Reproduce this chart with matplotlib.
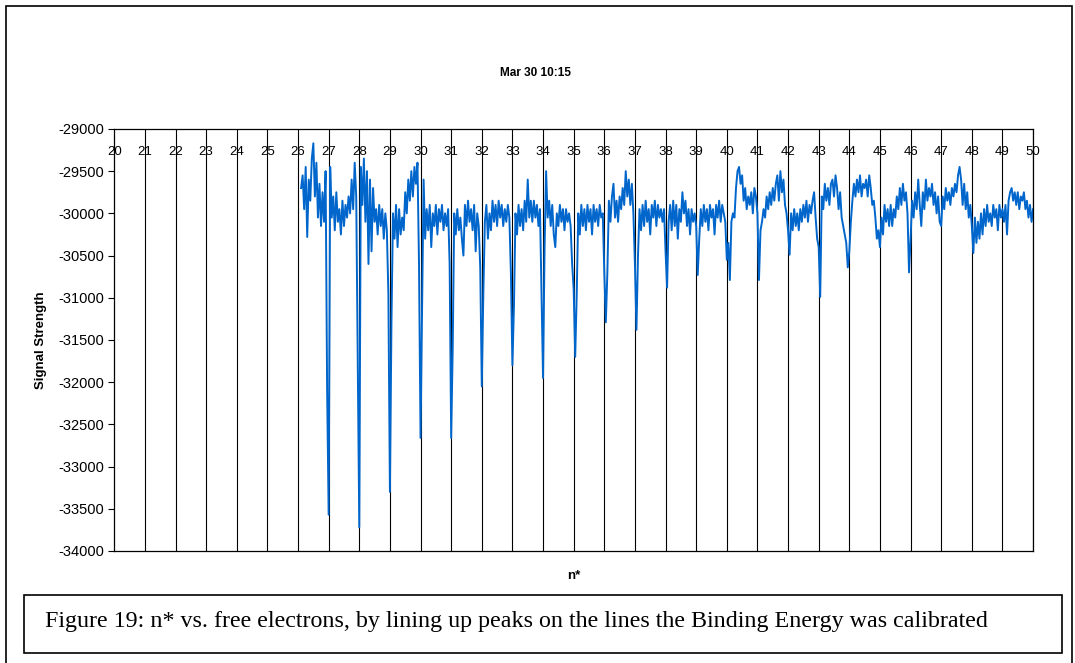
import matplotlib as mpl
mpl.use('Agg')
import matplotlib.pyplot as plt
from matplotlib.patches import Rectangle
import numpy as np

n_first = 26.10
n_step = 0.05
row26 = [-29700, -29550, -29950, -29450, -30280, -29600, -29850, -29350, -29170, -29800,
         -29400, -30050, -29650, -30150, -29750, -30100, -29500, -32100]
row27 = [-33570, -29450, -30050, -29800, -30200, -29750, -30100, -29950, -30250, -29850,
         -30150, -29900, -30050, -29800, -30000, -29600, -29950, -29400, -29800, -31700]
row28 = [-33720, -29450, -29900, -29350, -30100, -29500, -30600, -29600, -30450, -29700,
         -30100, -29950, -30250, -29900, -30150, -29950, -30300, -30000, -30200, -30950]
row29 = [-33300, -31300, -30000, -30300, -29900, -30400, -29950, -30250, -30050, -30200,
         -29750, -30000, -29600, -29850, -29500, -29800, -29450, -29650, -29400, -30600]
row30 = [-32660, -31150, -29600, -30300, -29950, -30200, -29900, -30400, -30000, -30150,
         -29900, -30250, -29950, -30100, -29900, -30200, -30000, -30150, -29950, -30600]
row31 = [-32660, -31600, -30000, -30250, -29950, -30200, -30050, -30300, -30500, -29900,
         -30150, -29850, -30100, -29950, -30200, -29900, -30450, -30000, -30150, -30650]
row32 = [-32050, -30950, -30100, -29900, -30300, -30000, -30200, -29850, -30100, -29900,
         -30150, -29850, -30050, -29900, -30150, -29950, -30100, -29900, -30050, -30700]
row33 = [-31800, -31100, -30000, -30250, -29900, -30150, -29950, -30200, -29850, -30100,
         -29600, -30050, -29850, -30100, -29850, -30050, -29900, -30150, -29950, -30950]
row34 = [-31950, -30400, -29500, -30050, -29850, -30150, -29900, -30250, -30400, -30000,
         -30150, -29900, -30100, -29950, -30200, -29950, -30100, -30000, -30150, -30600]
row35 = [-30900, -31700, -30950, -30000, -30250, -29900, -30150, -29950, -30200, -29900,
         -30100, -29950, -30250, -29900, -30100, -29950, -30150, -29900, -30050, -30000]
row36 = [-30700, -31290, -30700, -29850, -30100, -29800, -29650, -30050, -29850, -30100,
         -29800, -29950, -29700, -29900, -29500, -29800, -29600, -29900, -29650, -30000]
row37 = [-30600, -31380, -30500, -29950, -30200, -29900, -30150, -29850, -30100, -29950,
         -30250, -29900, -30050, -29850, -30150, -29900, -30050, -29950, -30100, -29950]
row38 = [-30450, -30880, -30100, -29900, -30200, -29850, -30150, -29900, -30300, -29950,
         -30100, -29750, -30000, -29850, -30150, -29950, -30250, -29950, -30100, -30000]
row39 = [-30150, -30730, -30300, -29950, -30150, -29900, -30100, -29950, -30200, -29900,
         -30050, -29950, -30250, -29900, -30050, -29850, -30100, -29900, -30000, -30100]
row40 = [-30550, -30350, -30790, -30100, -30000, -30050, -29700, -29500, -29450, -29650,
         -29550, -29850, -29700, -29950, -29800, -29900, -29750, -30000, -29700, -29800]
row41 = [-30000, -30790, -30200, -30100, -29950, -30050, -29800, -29950, -29750, -29900,
         -29700, -29850, -29650, -29550, -29850, -29500, -29750, -29600, -29900, -30000]
row42 = [-30200, -30490, -30000, -30200, -29950, -30150, -30000, -30200, -29950, -30100,
         -29900, -30050, -29850, -30100, -29900, -30000, -29850, -29750, -30050, -30300]
row43 = [-30400, -30990, -29800, -29950, -29650, -29850, -29700, -29900, -29650, -29600,
         -29800, -29550, -29700, -29950, -29750, -30050, -30150, -30250, -30350, -30640]
row44 = [-30450, -30100, -29850, -29650, -29800, -29600, -29750, -29550, -29800, -29650,
         -29700, -29600, -29800, -29550, -29700, -29900, -29850, -30050, -30300, -30200]
row45 = [-30400, -30050, -30250, -29900, -30100, -29950, -30150, -29900, -30150, -29950,
         -30050, -29800, -29950, -29700, -29900, -29650, -29850, -29750, -30000, -30700]
row46 = [-30300, -29850, -30050, -29750, -29950, -29600, -29900, -30150, -29750, -29950,
         -29600, -29850, -29700, -29800, -29650, -29900, -29750, -30000, -29800, -30100]
row47 = [-30150, -29800, -29950, -29700, -29850, -29750, -29900, -29700, -29800, -29650,
         -29750, -29550, -29450, -29600, -29900, -29650, -29950, -29750, -30050, -29900]
row48 = [-30150, -30470, -30050, -30350, -30100, -30300, -30000, -30250, -29950, -30150,
         -29900, -30100, -30000, -30150, -29900, -30050, -29950, -30200, -29900, -30050]
row49 = [-29950, -30100, -29900, -30250, -29850, -29750, -29700, -29850, -29750, -29900,
         -29750, -29950, -29800, -29850, -29750, -29950, -29850, -30050, -29900, -30100]
row50 = [-29950]

signal = np.array(row26 + row27 + row28 + row29 + row30 + row31 + row32 + row33 + row34
                  + row35 + row36 + row37 + row38 + row39 + row40 + row41 + row42 + row43
                  + row44 + row45 + row46 + row47 + row48 + row49 + row50)
nstar = n_first + n_step * np.arange(len(signal))

line_n = list(range(20, 51))
y_ticks = list(range(-34000, -28999, 500))

fig = plt.figure(figsize=(10.75, 6.63), dpi=100)
ax = fig.add_axes([0.1063, 0.169, 0.8547, 0.6365])

for n in line_n[1:]:
    ax.axvline(n, color='black', linewidth=0.8, zorder=1)
ax.plot(nstar, signal, color='#0066CC', linewidth=1.4, zorder=2)

for n in line_n:
    ax.text(n, -29270, str(n), ha='center', va='center', fontsize=9.5,
            family='Liberation Sans', zorder=3)

ax.set_xlim(20, 50)
ax.set_ylim(-34000, -29000)
ax.set_xticks([])
ax.set_yticks(y_ticks)
ax.set_yticklabels([str(v) for v in y_ticks], family='Liberation Sans', fontsize=10.5)
ax.tick_params(axis='y', direction='out', length=4, width=0.8, pad=3)
for s in ax.spines.values():
    s.set_linewidth(0.9)

ax.set_ylabel('Signal Strength', fontsize=9.5, fontweight='bold', family='Liberation Sans',
              labelpad=8)
ax.set_xlabel('n*', fontsize=9.5, fontweight='bold', family='Liberation Sans', labelpad=14)
fig.text(536 / 1075, 1 - 73 / 663, 'Mar 30 10:15', ha='center', va='center', fontsize=8.5,
         fontweight='bold', family='Liberation Sans')

# outer frame and caption box
fig.patches.append(Rectangle((6 / 1075, -0.01), 1066 / 1075, 1 - 6 / 663 + 0.01,
                             transform=fig.transFigure, fill=False, edgecolor='black',
                             linewidth=1.2))
fig.patches.append(Rectangle((24 / 1075, 1 - 653 / 663), 1038 / 1075, 58 / 663,
                             transform=fig.transFigure, fill=False, edgecolor='black',
                             linewidth=1.2))
fig.text(45 / 1075, 1 - 622 / 663,
         'Figure 19: n* vs. free electrons, by lining up peaks on the lines the Binding Energy was calibrated',
         ha='left', va='center', fontsize=17.3, family='Liberation Serif')

plt.savefig('out.png', dpi=100)
